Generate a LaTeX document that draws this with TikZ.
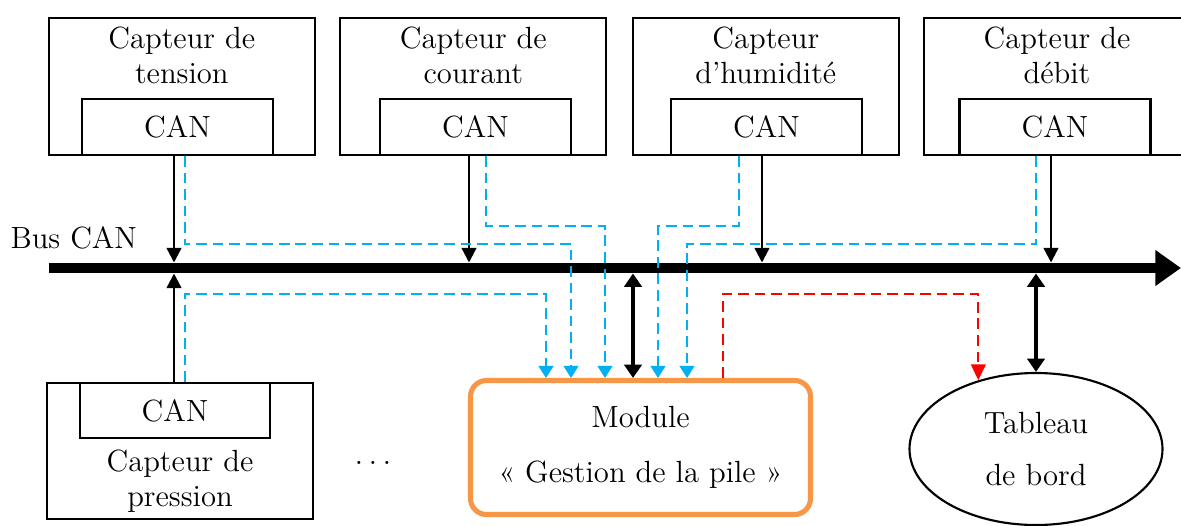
\documentclass[tikz,border=0pt]{standalone}
\usepackage{fontspec}
\usetikzlibrary{arrows.meta,shapes.geometric}
\definecolor{canblue}{RGB}{0,176,240}
\definecolor{modorange}{RGB}{247,150,70}
\newcommand\pxu{0.375pt}
\tikzset{
  box/.style={draw, line width=0.8pt, inner sep=0pt},
  lbl/.style={align=center, inner sep=3.4pt},
  sarrow/.style={line width=0.9pt, -{Triangle[length=5.5pt,width=5.5pt]}},
  darrow/.style={line width=1.6pt, {Triangle[length=5pt,width=6.5pt]}-{Triangle[length=5pt,width=6.5pt]}},
  bline/.style={draw=canblue, line width=0.8pt, dash pattern=on 4pt off 2.2pt, -{Triangle[length=4.5pt,width=5.5pt]}},
  rline/.style={draw=red, line width=0.8pt, dash pattern=on 4pt off 2.2pt, -{Triangle[length=6pt,width=5.5pt]}},
}
\begin{document}
\begin{tikzpicture}[x=0.375pt,y=-0.375pt, font=\fontsize{11.5}{13.1}\selectfont]
\useasboundingbox (0,0) rectangle (1181,525);

% sensor boxes (top)
\node[box, minimum width=266*\pxu, minimum height=137*\pxu,
      label={[lbl,anchor=north]north:Capteur de\\tension}] (s1) at (181.8,86.5) {};
\node[box, minimum width=266*\pxu, minimum height=137*\pxu,
      label={[lbl,anchor=north]north:Capteur de\\courant}] (s2) at (473.3,86.5) {};
\node[box, minimum width=266*\pxu, minimum height=137*\pxu,
      label={[lbl,anchor=north]north:Capteur\\d’humidité}] (s3) at (765.8,86.5) {};
\node[box, minimum width=266*\pxu, minimum height=137*\pxu,
      label={[lbl,anchor=north]north:Capteur de\\débit}] (s4) at (1057,86.5) {};

\node[box, minimum width=191*\pxu, minimum height=56*\pxu] (c1) at (177.5,127) {CAN};
\node[box, minimum width=191*\pxu, minimum height=56*\pxu] (c2) at (475.5,127) {CAN};
\node[box, minimum width=191*\pxu, minimum height=56*\pxu] (c3) at (766.5,127) {CAN};
\node[box, minimum width=191*\pxu, minimum height=56*\pxu] (c4) at (1055,127) {CAN};

% pressure sensor
\node[box, minimum width=266*\pxu, minimum height=136*\pxu,
      label={[lbl,anchor=south,inner sep=2.7pt]south:Capteur de\\pression}] (p) at (180,451) {};
\node[box, minimum width=190*\pxu, minimum height=55*\pxu] (c5) at (175,410.5) {CAN};

\node (dots) at (373,463) {$\ldots$};

% module
\node[draw=modorange, line width=1.9pt, rounded corners=6pt,
      minimum width=340*\pxu, minimum height=134*\pxu, align=center,
      font=\fontsize{11.5}{20.6}\selectfont] (mod) at (640.5,447.5) {Module\\«~Gestion de la pile~»};

% dashboard
\node[draw, ellipse, line width=0.8pt, inner sep=0pt,
      minimum width=253*\pxu, minimum height=152*\pxu, align=center,
      font=\fontsize{11.5}{19.5}\selectfont] (tab) at (1036,449) {Tableau\\de bord};

% bus
\node[anchor=base west, inner sep=0pt] (buslbl) at (10,248) {Bus CAN};
\coordinate (busL) at (48.6,268);
\coordinate (busR) at (1181,268);
\coordinate (busT) at (0,262.5);
\coordinate (busB) at (0,273.5);
\draw[line width=4.1pt, -{Triangle[length=9.6pt,width=12.8pt]}] (busL) -- (busR);

% sensors to bus
\draw[sarrow] (174,0 |- c1.south) -- (174,0 |- busT);
\draw[sarrow] (469,0 |- c2.south) -- (469,0 |- busT);
\draw[sarrow] (762,0 |- c3.south) -- (762,0 |- busT);
\draw[sarrow] (1051,0 |- c4.south) -- (1051,0 |- busT);
\draw[sarrow] (174,0 |- c5.north) -- (174,0 |- busB);

% bidirectional
\draw[darrow] (633,0 |- busB) -- (633,0 |- mod.north);
\draw[darrow] (tab.north |- busB) -- (tab.north);

% data flows to module
\draw[bline] (185,0 |- c1.south) -- (185,244) -| (571,0 |- mod.north);
\draw[bline] (486,0 |- c2.south) -- (486,226) -| (605,0 |- mod.north);
\draw[bline] (739,0 |- c3.south) -- (739,226) -| (658,0 |- mod.north);
\draw[bline] (1036,0 |- c4.south) -- (1036,244) -| (687,0 |- mod.north);
\draw[bline] (185,0 |- c5.north) -- (185,294) -| (546,0 |- mod.north);

% module to dashboard
\draw[rline] (723,0 |- mod.north) -- (723,294) -| (tab.130);
\end{tikzpicture}
\end{document}
